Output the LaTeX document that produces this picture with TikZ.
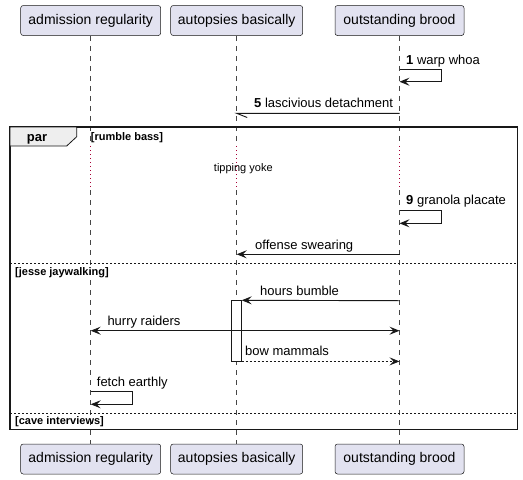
\documentclass[tikz,border=0pt]{standalone}
\usepackage{fontspec}
\setmainfont{Liberation Sans}
\usetikzlibrary{arrows.meta,positioning}
\definecolor{partfill}{HTML}{E2E2F0}
\definecolor{lineclr}{HTML}{181818}
\definecolor{delayclr}{HTML}{A80036}
\definecolor{tabfill}{HTML}{EEEEEE}
\tikzset{
  participant/.style={draw=lineclr,fill=partfill,rounded corners=2.5pt,line width=0.5pt,
    minimum height=30pt,inner sep=0pt,font=\fontsize{14}{16}\selectfont},
  lifeline/.style={draw=lineclr!80,line width=0.5pt,dash pattern=on 5pt off 5pt},
  delay/.style={draw=delayclr,line width=1pt,dash pattern=on 1pt off 3pt},
  msg/.style={draw=lineclr,line width=0.9pt,-{Stealth[length=10pt,width=8pt,inset=4pt]}},
  msgtext/.style={anchor=base west,inner sep=0pt,font=\fontsize{13}{15}\selectfont},
  guard/.style={anchor=base west,inner sep=0pt,font=\fontsize{11}{13}\selectfont\bfseries},
  sep/.style={draw=lineclr,line width=0.8pt,dash pattern=on 2pt off 2pt},
}
\begin{document}
\begin{tikzpicture}[x=1pt,y=-1pt]
\useasboundingbox (0,0) rectangle (523,480);
% participants
\node[participant,minimum width=140pt] (a) at (90.7,20.5) {admission regularity};
\node[participant,minimum width=132pt] (b) at (236.7,20.5) {autopsies basically};
\node[participant,minimum width=129pt] (c) at (399.5,20.5) {outstanding brood};
\node[participant,minimum width=140pt] (a2) at (90.7,459) {admission regularity};
\node[participant,minimum width=132pt] (b2) at (236.7,459) {autopsies basically};
\node[participant,minimum width=129pt] (c2) at (399.5,459) {outstanding brood};
% lifelines, dotted through the delay
\coordinate (dly1) at (0,146);
\coordinate (dly2) at (0,190);
\foreach \p in {a,b,c}{
  \draw[lifeline] (\p.south) -- (\p.south |- dly1);
  \draw[delay] (\p.south |- dly1) -- (\p.south |- dly2);
  \draw[lifeline] (\p.south |- dly2) -- (\p2.north);
}
% par frame
\draw[line width=1.5pt,draw=lineclr] (10,127) rectangle (517.7,429.3);
\filldraw[fill=tabfill,draw=lineclr,line width=0.8pt] (10,127) -- (76.7,127) -- (76.7,136.7) -- (66.7,146) -- (10,146) -- cycle;
\node[anchor=base,inner sep=0pt,font=\fontsize{13}{15}\selectfont\bfseries] (par) at (37,141.5) {par};
\node[guard] (g1) at (90.7,140.7) {[rumble bass]};
\node[anchor=base,inner sep=0pt,font=\fontsize{11}{13}\selectfont] (dt) at (243.3,171.7) {tipping yoke};
\draw[sep] (10,263.3) -- (517.7,263.3);
\node[guard] (g2) at (15,275) {[jesse jaywalking]};
\draw[sep] (10,413.3) -- (517.7,413.3);
\node[guard] (g3) at (15,424) {[cave interviews]};
% messages
\coordinate (m1) at (c.south |- 0,69.7);
\draw[msg] (m1) -- ++(42,0) -- ++(0,12) -- ++(-42,0);
\node[msgtext] (t1) at (406,64.5) {\textbf{1} warp whoa};
\coordinate (m5a) at (c.south |- 0,113.3);
\coordinate (m5b) at (b.south |- 0,113.3);
\draw[draw=lineclr,line width=0.9pt] (m5a) -- (m5b) -- ++(10.5,4.2);
\node[msgtext] (t5) at (254,107.3) {\textbf{5} lascivious detachment};
\coordinate (m9) at (c.south |- 0,210);
\draw[msg] (m9) -- ++(42,0) -- ++(0,13.3) -- ++(-42,0);
\node[msgtext] (t9) at (406,204.3) {\textbf{9} granola placate};
\coordinate (m10a) at (c.south |- 0,254.3);
\coordinate (m10b) at (b.south |- 0,254.3);
\draw[msg] (m10a) -- (m10b);
\node[msgtext] (t10) at (255,249.3) {offense swearing};
% activation
\node[draw=lineclr,fill=white,line width=0.8pt,inner sep=0pt,minimum width=10pt,minimum height=60.3pt] (act) at (236.3,330.85) {};
\coordinate (m11) at (c.south |- 0,300.7);
\draw[msg] (m11) -- (act.north east);
\node[msgtext] (t11) at (260,295) {hours bumble};
\coordinate (m12a) at (a.south |- 0,330.7);
\coordinate (m12b) at (c.south |- 0,330.7);
\draw[msg,{Stealth[length=10pt,width=8pt,inset=4pt]}-{Stealth[length=10pt,width=8pt,inset=4pt]}] (m12a) -- (m12b);
\node[msgtext] (t12) at (107.3,325) {hurry raiders};
\coordinate (m13) at (c.south |- act.south);
\draw[msg,dash pattern=on 2pt off 2pt] (act.south east) -- (m13);
\node[msgtext] (t13) at (245,355) {bow mammals};
\coordinate (m14) at (a.south |- 0,391.7);
\draw[msg] (m14) -- ++(41.6,0) -- ++(0,12.6) -- ++(-41.6,0);
\node[msgtext] (t14) at (96.7,386.7) {fetch earthly};
\end{tikzpicture}
\end{document}
